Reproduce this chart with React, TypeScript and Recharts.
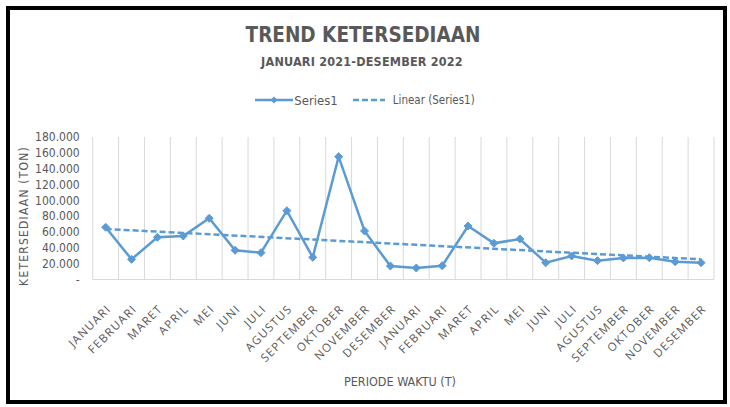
import React from 'react';
import { LineChart, Line, XAxis, YAxis, CartesianGrid, Legend } from 'recharts';

const months: string[] = [
  'JANUARI', 'FEBRUARI', 'MARET', 'APRIL', 'MEI', 'JUNI', 'JULI', 'AGUSTUS',
  'SEPTEMBER', 'OKTOBER', 'NOVEMBER', 'DESEMBER',
  'JANUARI', 'FEBRUARI', 'MARET', 'APRIL', 'MEI', 'JUNI', 'JULI', 'AGUSTUS',
  'SEPTEMBER', 'OKTOBER', 'NOVEMBER', 'DESEMBER',
];

const years: number[] = [
  2021, 2021, 2021, 2021, 2021, 2021, 2021, 2021, 2021, 2021, 2021, 2021,
  2022, 2022, 2022, 2022, 2022, 2022, 2022, 2022, 2022, 2022, 2022, 2022,
];

const series1: number[] = [
  66000, 25500, 53300, 55000, 77300, 36900, 33900, 86900, 28000, 155100, 61300, 17000,
  14500, 17400, 67600, 45700, 51200, 21200, 29700, 23800, 27200, 27600, 22500, 21200,
];

// Linear trend line endpoints
const trendStart = 63800;
const trendEnd = 25500;

const yTicks: number[] = [0, 20000, 40000, 60000, 80000, 100000, 120000, 140000, 160000, 180000];

const data = months.map((m, i) => ({
  key: `${m}-${years[i]}`,
  bulan: m,
  series1: series1[i],
  trend: i === 0 ? trendStart : i === months.length - 1 ? trendEnd : null,
}));

const BLUE = '#5B9BD5';
const GRAY = '#595959';
const FONT = '"DejaVu Sans Condensed", "Roboto Condensed", Roboto, sans-serif';
const TICK_FONT = '"Open Sans", "DejaVu Sans", sans-serif';

const fmtY = (v: number) => (v === 0 ? '-' : `${Math.round(v / 1000)}.000`);
const fmtX = (k: string) => String(k).split('-')[0];

const Diamond = (props: any) => {
  const { cx, cy, index } = props;
  if (cx == null || cy == null) return <g key={index} />;
  const r = 4;
  return (
    <polygon
      key={`d-${index}`}
      points={`${cx},${cy - r} ${cx + r},${cy} ${cx},${cy + r} ${cx - r},${cy}`}
      fill={BLUE}
      stroke={BLUE}
    />
  );
};

const XTick = (props: any) => {
  const { x, y, payload } = props;
  const ax = x + 6;
  const ay = y + 22;
  return (
    <text
      x={ax}
      y={ay}
      transform={`rotate(-45 ${ax} ${ay})`}
      textAnchor="end"
      fontSize={11.5}
      fill={GRAY}
      fontFamily={TICK_FONT}
      letterSpacing={1.3}
    >
      {fmtX(payload.value)}
    </text>
  );
};

const LegendContent = () => (
  <div
    style={{
      display: 'flex',
      justifyContent: 'center',
      alignItems: 'center',
      fontFamily: FONT,
      fontSize: 13,
      color: GRAY,
      height: 16,
    }}
  >
    <svg width={38} height={10} style={{ marginRight: 1 }}>
      <line x1={0} y1={5} x2={38} y2={5} stroke={BLUE} strokeWidth={2.5} />
      <polygon points="19,1.5 22.5,5 19,8.5 15.5,5" fill={BLUE} />
    </svg>
    <span style={{ marginRight: 15 }}>Series1</span>
    <svg width={32} height={10} style={{ marginRight: 8 }}>
      <line x1={0} y1={5} x2={32} y2={5} stroke={BLUE} strokeWidth={2.5} strokeDasharray="6 3" />
    </svg>
    <span style={{ fontSize: 11.5 }}>Linear (Series1)</span>
  </div>
);

export default function App() {
  return (
    <div style={{ position: 'absolute', left: 0, top: 0, width: 730, height: 407, background: '#fff' }}>
      <div
        style={{
          position: 'absolute',
          left: 6,
          top: 6,
          width: 713,
          height: 390,
          border: '4px solid #000',
        }}
      />
      <div
        style={{
          position: 'absolute',
          left: 0,
          width: 726,
          top: 23,
          textAlign: 'center',
          fontFamily: FONT,
          fontWeight: 'bold',
          fontSize: 20.5,
          color: GRAY,
          letterSpacing: 0,
          lineHeight: '24px',
        }}
      >
        TREND KETERSEDIAAN
      </div>
      <div
        style={{
          position: 'absolute',
          left: 0,
          width: 724,
          top: 54,
          textAlign: 'center',
          fontFamily: FONT,
          fontWeight: 'bold',
          fontSize: 12.5,
          color: GRAY,
          letterSpacing: 0.2,
          lineHeight: '16px',
        }}
      >
        JANUARI 2021-DESEMBER 2022
      </div>
      <div style={{ position: 'absolute', left: 0, top: 0 }}>
        <LineChart
          width={730}
          height={407}
          data={data}
          margin={{ top: 137, right: 16, bottom: 0, left: 0 }}
        >
          <CartesianGrid
            horizontal={false}
            stroke="#d9d9d9"
            verticalCoordinatesGenerator={({ offset }: any) => {
              const n = months.length;
              const step = offset.width / n;
              return Array.from({ length: n + 1 }, (_, i) => offset.left + i * step);
            }}
          />
          <XAxis
            dataKey="key"
            scale="band"
            interval={0}
            height={127.5}
            tick={<XTick />}
            tickLine={false}
            axisLine={{ stroke: '#d9d9d9' }}
            label={{
              content: () => (
                <text
                  x={400}
                  y={386}
                  textAnchor="middle"
                  fontSize={12.5}
                  fill={GRAY}
                  fontFamily={FONT}
                >
                  PERIODE WAKTU (T)
                </text>
              ),
            }}
          />
          <YAxis
            width={92.7}
            domain={[0, 180000]}
            ticks={yTicks}
            interval={0}
            tickFormatter={fmtY}
            tickLine={false}
            axisLine={false}
            tickSize={0}
            tickMargin={13}
            tick={{ fill: GRAY, fontSize: 12, fontFamily: FONT }}
            label={{
              content: () => (
                <text
                  x={28}
                  y={216}
                  transform="rotate(-90 28 216)"
                  textAnchor="middle"
                  fontSize={12}
                  fill={GRAY}
                  fontFamily={FONT}
                  letterSpacing={1.2}
                >
                  KETERSEDIAAN (TON)
                </text>
              ),
            }}
          />
          <Legend
            verticalAlign="middle"
            align="center"
            wrapperStyle={{ top: 92, left: 0, width: 730 }}
            content={<LegendContent />}
          />
          <Line
            name="Series1"
            dataKey="series1"
            stroke={BLUE}
            strokeWidth={2.5}
            dot={Diamond}
            activeDot={false}
            isAnimationActive={false}
          />
          <Line
            name="Linear (Series1)"
            dataKey="trend"
            stroke={BLUE}
            strokeWidth={2.5}
            strokeDasharray="6 3"
            dot={false}
            activeDot={false}
            connectNulls
            isAnimationActive={false}
          />
        </LineChart>
      </div>
    </div>
  );
}
